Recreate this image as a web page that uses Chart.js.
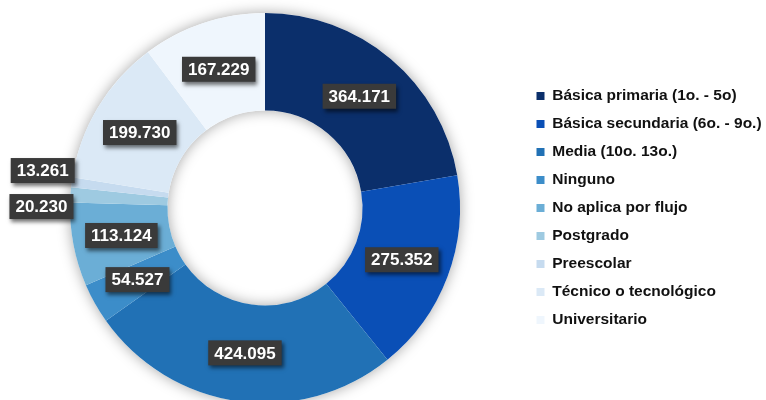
<!DOCTYPE html>
<html>
<head>
<meta charset="utf-8">
<script src="https://cdn.jsdelivr.net/npm/chart.js@4.4.1/dist/chart.umd.min.js"></script>
<style>
  body { margin: 0; overflow: hidden; background: #fff; }
  #wrap { width: 766px; height: 420px; }
</style>
</head>
<body>
<div id="wrap"><canvas id="torta" width="766" height="420"></canvas></div>
<script>
const niveles = ["Básica primaria (1o. - 5o)", "Básica secundaria (6o. - 9o.)", "Media (10o. 13o.)", "Ninguno",
  "No aplica por flujo", "Postgrado", "Preescolar", "Técnico o tecnológico", "Universitario"];
const personas = [364171, 275352, 424095, 54527, 113124, 20230, 13261, 199730, 167229];
const colores = ["#0b2f6b", "#0a4fb6", "#2171b5", "#3c8dc9", "#6baed6", "#9ecae1", "#c6dbef", "#dbe9f6", "#eff6fd"];

function fmt(v) {
  return String(v).replace(/\B(?=(\d{3})+(?!\d))/g, ".");
}

// sombra suave alrededor del anillo
const sombraAnillo = {
  id: "sombraAnillo",
  beforeDatasetsDraw(chart) {
    const arc = chart.getDatasetMeta(0).data[0];
    if (!arc) return;
    const ctx = chart.ctx;
    ctx.save();
    ctx.shadowColor = "rgba(0,0,0,0.35)";
    ctx.shadowBlur = 14;
    ctx.fillStyle = "#fff";
    ctx.beginPath();
    ctx.arc(arc.x, arc.y, arc.outerRadius, 0, Math.PI * 2);
    ctx.arc(arc.x, arc.y, arc.innerRadius, 0, Math.PI * 2, true);
    ctx.fill();
    ctx.restore();
  }
};

// etiquetas con caja oscura
const cajas = {
  id: "cajas",
  afterDatasetsDraw(chart) {
    const ctx = chart.ctx;
    const meta = chart.getDatasetMeta(0);
    const total = personas.reduce((a, b) => a + b, 0);
    ctx.save();
    ctx.font = "bold 17px 'Liberation Sans', Arial, sans-serif";
    const items = [];
    meta.data.forEach((arc, i) => {
      const txt = fmt(personas[i]);
      const w = ctx.measureText(txt).width + 12;
      const h = 25;
      const a = (arc.startAngle + arc.endAngle) / 2;
      const fuera = personas[i] / total < 0.02;
      let x, y;
      if (fuera) {
        x = arc.x + arc.outerRadius * Math.cos(a);
        y = arc.y + arc.outerRadius * Math.sin(a);
        x = Math.cos(a) < 0 ? x + 3 - w / 2 : x - 3 + w / 2;
      } else {
        const r = (arc.innerRadius + arc.outerRadius) / 2;
        x = arc.x + r * Math.cos(a);
        y = arc.y + r * Math.sin(a);
      }
      items.push({ txt, w, h, x, y, fuera });
    });
    const ext = items.filter(d => d.fuera).sort((p, q) => p.y - q.y);
    for (let k = 1; k < ext.length; k++) {
      const gap = 36 - (ext[k].y - ext[k - 1].y);
      if (gap > 0) { ext[k - 1].y -= gap / 2; ext[k].y += gap / 2; }
    }
    items.forEach(d => {
      ctx.shadowColor = "rgba(0,0,0,0.55)";
      ctx.shadowBlur = 4;
      ctx.shadowOffsetX = 2;
      ctx.shadowOffsetY = 3;
      ctx.fillStyle = "#3a3a3a";
      ctx.fillRect(d.x - d.w / 2, d.y - d.h / 2, d.w, d.h);
      ctx.shadowColor = "transparent";
      ctx.fillStyle = "#fff";
      ctx.textAlign = "center";
      ctx.textBaseline = "middle";
      ctx.fillText(d.txt, d.x, d.y + 1);
    });
    ctx.restore();
  }
};

// ancho fijo de la leyenda, el texto largo llega al borde
const ajusteLeyenda = {
  id: "ajusteLeyenda",
  beforeLayout(chart) {
    const lg = chart.legend;
    if (!lg || lg._ajustada) return;
    const fit = lg.fit;
    lg.fit = function () { fit.call(this); this.width = 242; };
    lg._ajustada = true;
  }
};

new Chart(document.getElementById("torta"), {
  type: "doughnut",
  data: {
    labels: niveles,
    datasets: [{
      data: personas,
      backgroundColor: colores,
      borderWidth: 0
    }]
  },
  options: {
    responsive: false,
    animation: false,
    cutout: "50%",
    layout: { padding: { left: 6, right: 0, top: 13, bottom: 17 } },
    plugins: {
      legend: {
        position: "right",
        labels: {
          boxWidth: 8,
          boxHeight: 8,
          padding: 12.5,
          color: "#111",
          font: { family: "'Liberation Sans', Arial, sans-serif", size: 15.5, weight: "bold" }
        }
      },
      tooltip: { enabled: false }
    }
  },
  plugins: [sombraAnillo, cajas, ajusteLeyenda]
});
</script>
</body>
</html>
